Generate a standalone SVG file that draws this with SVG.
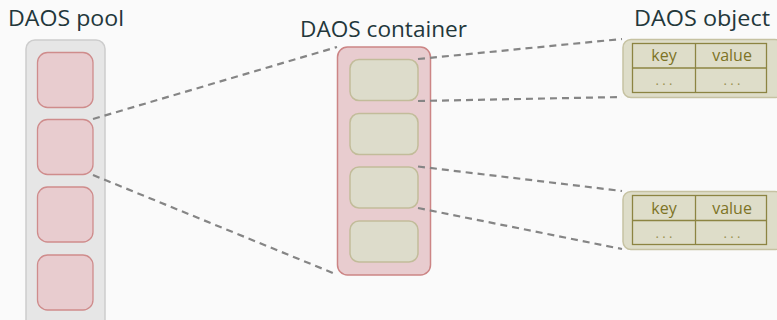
<svg xmlns="http://www.w3.org/2000/svg" width="777" height="320" viewBox="0 0 777 320">
<style>
.title{font-family:"Open Sans","Liberation Sans",sans-serif;font-size:22.5px;fill:#23373b}
.pool{fill:#e6e6e6;stroke:#cdcdcd;stroke-width:1.5}
.pbox{fill:#e8cccf;stroke:#cf8c8c;stroke-width:1.3}
.cont{fill:#e8cccf;stroke:#cc8585;stroke-width:1.5}
.cbox{fill:#dddccb;stroke:#c2bc9a;stroke-width:1.5}
.obj{fill:#deddc9;stroke:#c6c2a2;stroke-width:1.5}
.tbl{fill:none;stroke:#8c8442;stroke-width:1.3}
.kv{font-family:"Open Sans","Liberation Sans",sans-serif;font-size:16px;fill:#7d7325;text-anchor:middle}
.dots{font-family:"Open Sans","Liberation Sans",sans-serif;font-size:13px;fill:#9a9150;text-anchor:middle}
.conn line{stroke:#858585;stroke-width:2.2;stroke-dasharray:7 5}
</style>
<rect width="777" height="320" fill="#fafafa"/>
<g id="pool">
<text class="title" x="8" y="26" textLength="116" lengthAdjust="spacingAndGlyphs">DAOS pool</text>
<rect class="pool" x="26" y="40" width="79" height="290" rx="9"/>
<rect class="pbox" x="37.5" y="52.5" width="55.5" height="55" rx="10"/>
<rect class="pbox" x="37.5" y="119.5" width="55.5" height="55" rx="10"/>
<rect class="pbox" x="37.5" y="187" width="55.5" height="55" rx="10"/>
<rect class="pbox" x="37.5" y="255" width="55.5" height="55" rx="10"/>
</g>
<g id="container">
<text class="title" x="300" y="37" textLength="167" lengthAdjust="spacingAndGlyphs">DAOS container</text>
<rect class="cont" x="337.5" y="47" width="93" height="228" rx="10"/>
<rect class="cbox" x="350" y="59.5" width="68" height="41" rx="9"/>
<rect class="cbox" x="350" y="113.5" width="68" height="41" rx="9"/>
<rect class="cbox" x="350" y="167" width="68" height="41" rx="9"/>
<rect class="cbox" x="350" y="221" width="68" height="41" rx="9"/>
</g>
<g id="object1">
<text class="title" x="634" y="26" textLength="136" lengthAdjust="spacingAndGlyphs">DAOS object</text>
<rect class="obj" x="623" y="39.5" width="160" height="58" rx="8"/>
<rect class="tbl" x="632.5" y="43.5" width="134" height="49"/>
<line class="tbl" x1="632.5" y1="68" x2="766.5" y2="68"/>
<line class="tbl" x1="695.5" y1="43.5" x2="695.5" y2="92.5"/>
<text class="kv" x="664" y="61">key</text>
<text class="kv" x="732" y="61">value</text>
<text class="dots" x="664" y="85">. . .</text>
<text class="dots" x="732" y="85">. . .</text>
</g>
<g id="object2">
<rect class="obj" x="623" y="191.5" width="160" height="58" rx="8"/>
<rect class="tbl" x="632.5" y="195.5" width="134" height="49"/>
<line class="tbl" x1="632.5" y1="220.5" x2="766.5" y2="220.5"/>
<line class="tbl" x1="695.5" y1="195.5" x2="695.5" y2="244.5"/>
<text class="kv" x="664" y="213.5">key</text>
<text class="kv" x="732" y="213.5">value</text>
<text class="dots" x="664" y="237.5">. . .</text>
<text class="dots" x="732" y="237.5">. . .</text>
</g>
<g id="connectors" class="conn">
<line x1="93" y1="119" x2="337" y2="47"/>
<line x1="93" y1="175" x2="333" y2="273"/>
<line x1="418" y1="59" x2="622" y2="39"/>
<line x1="418" y1="101" x2="622" y2="97"/>
<line x1="418" y1="166.5" x2="622" y2="191"/>
<line x1="418" y1="208" x2="622" y2="249"/>
</g>
</svg>
